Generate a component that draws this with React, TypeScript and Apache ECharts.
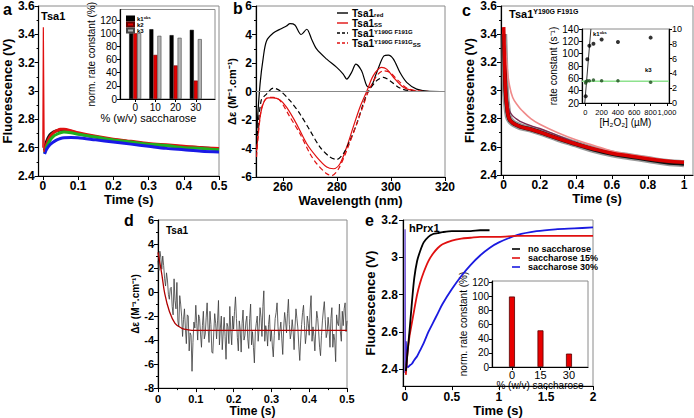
import React, { useEffect, useRef } from "react";
import * as echarts from "echarts";

const FONT = "'Liberation Sans', Arial, Helvetica, sans-serif";

// ---------------- Panel a ----------------
const aSpikeTime = [0, 0.0015, 0.004];
const aSpikeRed = [2.6, 3.45, 2.57];
const aTime = [0.005, 0.01, 0.02, 0.03, 0.04, 0.05, 0.06, 0.08, 0.1, 0.15, 0.2, 0.25, 0.3, 0.35, 0.4, 0.45, 0.5];
const aBlack = [2.58, 2.64, 2.69, 2.71, 2.72, 2.725, 2.725, 2.715, 2.7, 2.675, 2.655, 2.64, 2.625, 2.615, 2.605, 2.6, 2.59];
const aRed = [2.57, 2.62, 2.675, 2.705, 2.72, 2.73, 2.73, 2.72, 2.705, 2.68, 2.66, 2.645, 2.63, 2.62, 2.61, 2.6, 2.595];
const aGreen = [2.56, 2.6, 2.65, 2.68, 2.695, 2.705, 2.71, 2.705, 2.695, 2.675, 2.655, 2.64, 2.625, 2.615, 2.6, 2.595, 2.585];
const aBlue = [2.555, 2.585, 2.62, 2.64, 2.655, 2.665, 2.67, 2.672, 2.67, 2.655, 2.64, 2.625, 2.61, 2.595, 2.585, 2.575, 2.57];
const aXTicks = [0, 0.1, 0.2, 0.3, 0.4, 0.5];
const aInsetConc = [0, 10, 20, 30];
const aK1 = [100, 106, 97, 105];
const aK2 = [100, 67, 51, 28];
const aK3 = [100, 96, 93, 91];
const aInsetYTicks = [0, 20, 40, 60, 80, 100, 120];

// ---------------- Panel b ----------------
const bRedX = [250.2, 251.5, 252.7, 253.9, 256.4, 258.9, 261.3, 262.6, 264.4, 266.7, 268.8, 270.6, 272.5, 276.2, 279.9, 282.3, 283.6, 285.4, 287.0, 289.1, 291.0, 292.2, 294.7, 297.4, 299.0, 300.9, 303.3, 305.8, 309.5, 314.4, 320];
const bRedY = [-2.97, 0.52, 2.4, 3.55, 4.1, 4.37, 4.6, 4.76, 4.67, 4.0, 4.37, 3.67, 2.97, 2.27, 1.69, 1.22, 0.87, 1.34, 1.92, 1.45, 0.41, 0.29, 1.34, 2.5, 2.55, 2.27, 1.34, 0.64, 0.17, 0.01, 0];
const bSsX = [250.2, 251.5, 253.0, 254.5, 256.4, 258.9, 261.3, 265.0, 268.8, 272.5, 276.2, 278.7, 281.1, 283.6, 286.0, 288.5, 291.0, 293.4, 296.5, 298.4, 300.9, 304.6, 308.3, 312, 320];
const bSsY = [-4.2, -1.8, -0.7, -0.45, -0.45, -0.6, -1.1, -2.27, -3.67, -4.6, -5.3, -5.42, -5.07, -3.9, -2.5, -1.1, 0.0, 1.1, 1.69, 1.57, 1.0, 0.29, 0.05, 0, 0];
const bMutX = [250.2, 251.9, 253.9, 256.4, 258.9, 262.6, 266.3, 270.0, 273.7, 277.4, 279.9, 282.3, 284.8, 287.3, 289.7, 291.6, 294.7, 297.2, 299.6, 303.3, 307.0, 312, 320];
const bMutY = [-3.67, -0.64, -0.18, 0.24, 0.05, -0.64, -1.58, -2.74, -3.9, -4.6, -4.77, -4.37, -3.44, -2.27, -0.88, 0.0, 0.76, 0.99, 0.76, 0.24, 0.05, 0, 0];
const bMutSsX = [250.2, 251.9, 253.9, 256.4, 258.9, 262.6, 266.3, 270.0, 272.5, 276.2, 278.1, 280.6, 283.6, 287.3, 289.7, 291.6, 294.7, 297.2, 299.6, 302.7, 305.8, 309.5, 314, 320];
const bMutSsY = [-4.6, -1.3, -0.47, -0.41, -0.64, -1.8, -2.97, -4.37, -5.07, -5.77, -5.9, -5.42, -4.14, -2.27, -1.0, 0.0, 1.1, 1.45, 1.34, 0.76, 0.24, 0.05, 0, 0];
const bXTicks = [260, 280, 300, 320];

// ---------------- Panel c ----------------
const cTime = [0, 0.005, 0.01, 0.02, 0.03, 0.05, 0.08, 0.1, 0.15, 0.2, 0.3, 0.4, 0.5, 0.6, 0.7, 0.8, 0.9, 1.0];
const cBlack = [3.4, 3.2, 3.0, 2.86, 2.8, 2.77, 2.75, 2.74, 2.725, 2.705, 2.66, 2.62, 2.58, 2.55, 2.53, 2.51, 2.49, 2.48];
const cRed = [3.45, 3.2, 3.0, 2.86, 2.8, 2.77, 2.75, 2.74, 2.725, 2.705, 2.66, 2.62, 2.585, 2.555, 2.535, 2.515, 2.5, 2.49];
const cPink = [3.45, 3.38, 3.3, 3.15, 3.05, 2.95, 2.89, 2.86, 2.8, 2.76, 2.7, 2.65, 2.61, 2.57, 2.545, 2.525, 2.505, 2.49];
const cMidTime = [0, 0.005, 0.01, 0.02, 0.03, 0.05, 0.08, 0.1, 0.15, 0.2, 0.3, 0.4];
const cMid = [3.4, 3.2, 3.05, 2.92, 2.86, 2.82, 2.79, 2.775, 2.75, 2.73, 2.68, 2.63];
const cXTicks = [0, 0.2, 0.4, 0.6, 0.8, 1];
const cH2O2 = [5, 25, 50, 100, 200, 400, 800];
const cK1 = [31, 91, 113, 116, 123, 119, 126];
const cK1FitX = [-6, 69];
const cK1FitY = [20, 140];
const cK3Conc = [5, 10, 25, 50, 100, 200, 400, 800];
const cK3 = [2.7, 2.9, 3.0, 3.0, 3.1, 3.0, 3.0, 2.8];
const cK3FitX = [-40, 1025];
const cK3FitY = [2.95, 2.95];
const cInsetXTicks = [0, 200, 400, 600, 800, 1000];

// ---------------- Panel d ----------------
const dTime = [
  0, 0.0025, 0.005, 0.0075, 0.01, 0.0125, 0.015, 0.0175, 0.02, 0.0225, 0.025, 0.0275, 0.03, 0.0325, 0.035, 0.0375, 0.04, 0.0425, 0.045, 0.0475,
  0.05, 0.0525, 0.055, 0.0575, 0.06, 0.0625, 0.065, 0.0675, 0.07, 0.0725, 0.075, 0.0775, 0.08, 0.0825, 0.085, 0.0875, 0.09, 0.0925, 0.095, 0.0975,
  0.1, 0.1025, 0.105, 0.1075, 0.11, 0.1125, 0.115, 0.1175, 0.12, 0.1225, 0.125, 0.1275, 0.13, 0.1325, 0.135, 0.1375, 0.14, 0.1425, 0.145, 0.1475,
  0.15, 0.1525, 0.155, 0.1575, 0.16, 0.1625, 0.165, 0.1675, 0.17, 0.1725, 0.175, 0.1775, 0.18, 0.1825, 0.185, 0.1875, 0.19, 0.1925, 0.195, 0.1975,
  0.2, 0.2025, 0.205, 0.2075, 0.21, 0.2125, 0.215, 0.2175, 0.22, 0.2225, 0.225, 0.2275, 0.23, 0.2325, 0.235, 0.2375, 0.24, 0.2425, 0.245, 0.2475,
  0.25, 0.2525, 0.255, 0.2575, 0.26, 0.2625, 0.265, 0.2675, 0.27, 0.2725, 0.275, 0.2775, 0.28, 0.2825, 0.285, 0.2875, 0.29, 0.2925, 0.295, 0.2975,
  0.3, 0.3025, 0.305, 0.3075, 0.31, 0.3125, 0.315, 0.3175, 0.32, 0.3225, 0.325, 0.3275, 0.33, 0.3325, 0.335, 0.3375, 0.34, 0.3425, 0.345, 0.3475,
  0.35, 0.3525, 0.355, 0.3575, 0.36, 0.3625, 0.365, 0.3675, 0.37, 0.3725, 0.375, 0.3775, 0.38, 0.3825, 0.385, 0.3875, 0.39, 0.3925, 0.395, 0.3975,
  0.4, 0.4025, 0.405, 0.4075, 0.41, 0.4125, 0.415, 0.4175, 0.42, 0.4225, 0.425, 0.4275, 0.43, 0.4325, 0.435, 0.4375, 0.44, 0.4425, 0.445, 0.4475,
  0.45, 0.4525, 0.455, 0.4575, 0.46, 0.4625, 0.465, 0.4675, 0.47, 0.4725, 0.475, 0.4775, 0.48, 0.4825, 0.485, 0.4875, 0.49, 0.4925, 0.495, 0.4975,
  0.5,
];
const dSignal = [
  2.6, 1.8, 3.4, 2.9, 1.9, 3.0, 2.2, 1.1, 0.5, 1.6, 1.0, -0.2, -0.6, 0.3, 0.4, -1.2, -1.9, 1.1, -0.7, -1.4,
  0.8, -2.4, -2.9, -0.3, -1.0, -2.0, -3.7, -2.3, -1.4, -3.0, -4.3, -1.9, -2.0, -4.9, -3.4, -3.6, -6.6, -4.2, -2.5, -3.0,
  -1.1, -2.6, -4.0, -1.9, -2.2, -3.5, -4.6, -2.8, -1.6, -3.9, -3.5, -2.1, -0.9, -3.0, -4.2, -1.6, -2.7, -5.0, -5.1, -3.4,
  -1.8, -2.6, -3.9, -2.4, -0.7, -4.4, -3.0, -2.0, -4.8, -3.4, -2.1, -3.7, -5.6, -2.6, -2.9, -4.3, -1.2, -3.2, -4.4, -2.0,
  -3.1, -1.6, -0.4, -2.2, -3.8, -4.9, -2.4, -3.1, -5.0, -2.6, -1.5, -4.0, -3.6, -2.5, -2.0, -3.9, -4.7, -2.2, -1.0, -4.4,
  -3.3, -4.6, -5.9, -3.3, -2.6, -2.0, -4.1, -3.0, -1.3, -2.1, -3.7, -1.2, 0.1, -4.1, -2.8, -3.3, -4.5, -2.7, -1.9, -4.1,
  -3.2, -4.5, -5.4, -3.6, -2.2, -1.7, -0.9, -2.9, -4.0, -3.2, -2.5, -3.9, -5.2, -3.0, -1.7, -2.4, -3.4, -1.8, -0.6, -2.7,
  -3.9, -3.4, -2.3, -3.2, -4.8, -2.9, -1.4, -2.2, -3.0, -4.5, -5.7, -4.0, -2.7, -1.7, -1.1, -2.8, -4.3, -3.5, -2.0, -2.6,
  -3.6, -1.5, -0.3, -4.1, -2.9, -3.7, -4.9, -3.0, -1.6, -2.2, -3.3, -4.6, -5.3, -3.6, -2.4, -1.5, -0.8, -2.3, -3.8, -3.4,
  -2.1, -3.0, -4.6, -2.2, -1.3, -4.6, -3.5, -4.0, -5.8, -1.9, -2.6, -2.8, -1.0, -3.3, -4.1, -1.6, -2.8, -1.4, -0.9, -3.3,
  -2.4,
];
const dFitTime = [0, 0.01, 0.018, 0.03, 0.045, 0.062, 0.08, 0.1, 0.5];
const dFit = [3.3, 1.5, -0.15, -1.6, -2.6, -3.0, -3.15, -3.2, -3.2];

// ---------------- Panel e ----------------
const eSpikeTime = [0, 0.002, 0.006];
const eSpike = [2.38, 3.15, 2.42];
const eTime = [0.01, 0.03, 0.05, 0.075, 0.1, 0.13, 0.16, 0.2, 0.25, 0.3, 0.35, 0.4, 0.5, 0.6, 0.7, 0.8, 0.9, 1.0, 1.2, 1.4, 1.6, 1.8, 2.0];
const eBlack = [2.39, 2.5, 2.61, 2.76, 2.89, 2.98, 3.03, 3.08, 3.11, 3.125, 3.13, 3.135, 3.14, 3.14, 3.14, 3.145, 3.145];
const eRed = [2.37, 2.5, 2.58, 2.65, 2.72, 2.8, 2.86, 2.92, 2.98, 3.02, 3.05, 3.07, 3.09, 3.1, 3.105, 3.11, 3.11, 3.11, 3.115, 3.115, 3.115, 3.115, 3.115];
const eBlue = [2.55, 2.41, 2.42, 2.43, 2.45, 2.47, 2.5, 2.54, 2.6, 2.65, 2.7, 2.75, 2.83, 2.9, 2.96, 3.01, 3.05, 3.08, 3.12, 3.14, 3.15, 3.155, 3.16];
const eXTicks = [0, 0.5, 1, 1.5, 2];
const eYTicks = [2.4, 2.6, 2.8, 3, 3.2];
const eConc = [0, 15, 30];
const eRate = [100, 52, 19];
const eInsetYTicks = [0, 20, 40, 60, 80, 100, 120];

// legend texts
const bLegend = [
  { text: "{m|Tsa1}{sub|red}", color: "#000", dash: false },
  { text: "{m|Tsa1}{sub|SS}", color: "#e01010", dash: false },
  { text: "{m|Tsa1}{sup|Y190G F191G}", color: "#000", dash: true },
  { text: "{m|Tsa1}{sup|Y190G F191G}{sub|SS}", color: "#e01010", dash: true },
];
const eLegend = [
  { text: "no saccharose", color: "#000" },
  { text: "saccharose 15%", color: "#e01010" },
  { text: "saccharose 30%", color: "#1a1ae0" },
];

const zip = (xs: number[], ys: number[]) => ys.map((y, i) => [xs[i], y]);

function axis(grid: number, o: any) {
  const tickCustom = o.ticks ? { customValues: o.ticks } : {};
  return {
    type: "value",
    gridIndex: grid,
    min: o.min,
    max: o.max,
    interval: o.interval,
    position: o.position,
    axisLine: { show: true, onZero: false, lineStyle: { color: "#000", width: 1.2 } },
    axisTick: { show: true, inside: false, length: o.tick ?? 4, lineStyle: { color: "#000", width: 1 }, ...tickCustom },
    minorTick: { show: !!o.minor, splitNumber: 2, length: 2, lineStyle: { color: "#000" } },
    splitLine: { show: false },
    axisLabel: {
      show: o.labels !== false,
      ...tickCustom,
      fontSize: o.fs ?? 12,
      fontWeight: o.weight ?? "bold",
      color: "#000",
      fontFamily: FONT,
      margin: o.margin ?? 4,
      formatter: o.fmt,
      hideOverlap: false,
      showMinLabel: true,
      showMaxLabel: true,
    },
    name: o.name,
    nameLocation: "middle",
    nameGap: o.nameGap ?? 20,
    nameTextStyle: {
      fontSize: o.nfs ?? 13,
      fontWeight: o.nweight ?? "bold",
      color: "#000",
      fontFamily: FONT,
      padding: o.npad ?? 0,
    },
  };
}

const line = (name: string, xi: number, yi: number, data: any[], color: string, width: number, extra: any = {}) => ({
  type: "line",
  name,
  xAxisIndex: xi,
  yAxisIndex: yi,
  data,
  symbol: "none",
  showSymbol: false,
  lineStyle: { color, width, ...(extra.lineStyle || {}) },
  itemStyle: { color },
  smooth: extra.smooth ?? false,
  z: extra.z ?? 2,
  silent: true,
  ...(extra.markLine ? { markLine: extra.markLine } : {}),
});

const txt = (text: string, left: number, top: number, size: number, rich?: any, weight = "bold") => ({
  type: "text",
  left,
  top,
  z: 10,
  style: { text, fontSize: size, fontWeight: weight, fontFamily: FONT, fill: "#000", rich },
});

const legendRich = {
  m: { fontSize: 10, fontWeight: "bold", lineHeight: 9, fontFamily: FONT, fill: "#000" },
  sub: { fontSize: 6, fontWeight: "bold", lineHeight: 6, verticalAlign: "bottom", fontFamily: FONT, fill: "#000" },
  sup: { fontSize: 6, fontWeight: "bold", lineHeight: 6, verticalAlign: "top", fontFamily: FONT, fill: "#000" },
};

function legendGraphics() {
  const out: any[] = [];
  bLegend.forEach((it, i) => {
    const y = 13 + i * 10;
    out.push({
      type: "line", z: 10, silent: true,
      shape: { x1: 337, y1: y, x2: 348, y2: y },
      style: { stroke: it.color, lineWidth: 1.4, lineDash: it.dash ? [3, 2] : null },
    });
    out.push({
      type: "text", z: 10, silent: true, x: 352, y,
      style: { text: it.text, verticalAlign: "middle", fontSize: 10, fontWeight: "bold", fontFamily: FONT, fill: "#000", rich: legendRich },
    });
  });
  eLegend.forEach((it, i) => {
    const y = 249 + i * 9;
    out.push({
      type: "line", z: 10, silent: true,
      shape: { x1: 512, y1: y, x2: 520, y2: y },
      style: { stroke: it.color, lineWidth: 1.6 },
    });
    out.push({
      type: "text", z: 10, silent: true, x: 528, y,
      style: { text: it.text, verticalAlign: "middle", fontSize: 9, fontWeight: "bold", fontFamily: FONT, fill: "#000" },
    });
  });
  return out;
}

export default function App() {
  const ref = useRef<HTMLDivElement>(null);
  useEffect(() => {
    if (!ref.current) return;
    const chart = echarts.init(ref.current, undefined, { renderer: "svg" });
    const frame = { show: true, borderColor: "#8a8a8a", borderWidth: 1, backgroundColor: "transparent" };
    const option: any = {
      animation: false,
      backgroundColor: "#fff",
      textStyle: { fontFamily: FONT },
      grid: [
        { left: 33, top: 5, width: 186, height: 171, ...frame },
        { left: 120, top: 5, width: 95, height: 94, ...frame },
        { left: 256, top: 5, width: 189, height: 172, ...frame },
        { left: 501, top: 5, width: 192, height: 170, ...frame },
        { left: 582, top: 29, width: 87, height: 74, ...frame },
        { left: 158, top: 220, width: 189, height: 171, ...frame },
        { left: 403, top: 220, width: 190, height: 170, ...frame },
        { left: 492, top: 281, width: 96, height: 86, ...frame },
      ],
      xAxis: [
        axis(0, { min: -0.012, max: 0.5, ticks: aXTicks, name: "Time (s)", nameGap: 15 }),
        axis(1, { min: -7.5, max: 39.5, ticks: aInsetConc, fs: 10, weight: "normal", margin: 3, tick: 3, name: "% (w/v) saccharose", nameGap: 13, nfs: 11, nweight: "normal", npad: [0, 38, 0, 0] }),
        axis(2, { min: 250, max: 320, ticks: bXTicks, name: "Wavelength (nm)", nameGap: 16 }),
        axis(3, { min: -0.015, max: 1.05, ticks: cXTicks, name: "Time (s)", nameGap: 16 }),
        axis(4, { min: -40, max: 1025, ticks: cInsetXTicks, fs: 7.5, weight: "normal", margin: 5, tick: 3, fmt: (v: number) => (v === 1000 ? "1,000" : String(v)), name: "[H₂O₂] (µM)", nameGap: 14, nfs: 10, nweight: "normal" }),
        axis(5, { min: 0, max: 0.5, interval: 0.1, minor: true, fs: 11, margin: 5, name: "Time (s)", nameGap: 16, nfs: 12 }),
        axis(6, { min: -0.02, max: 2, ticks: eXTicks, margin: 5, name: "Time (s)", nameGap: 16 }),
        axis(7, { min: -10.5, max: 40, ticks: eConc, fs: 11, weight: "normal", margin: 2, tick: 3, name: "% (w/v) saccharose", nameGap: 11, nfs: 10, nweight: "normal" }),
      ],
      yAxis: [
        axis(0, { min: 2.4, max: 3.6, interval: 0.2, minor: true, name: "Fluorescence (V)", nameGap: 22 }),
        axis(1, { min: 0, max: 136, ticks: aInsetYTicks, fs: 10, weight: "normal", margin: 3, tick: 3, name: "norm. rate constant (%)", nameGap: 18, nfs: 10, nweight: "normal" }),
        axis(2, { min: -6, max: 6, interval: 2, minor: true, margin: 4, name: "Δε (M⁻¹.cm⁻¹)", nameGap: 12, nfs: 11 }),
        axis(3, { min: 2.4, max: 3.6, interval: 0.2, minor: true, name: "Fluorescence (V)", nameGap: 24 }),
        axis(4, { min: 20, max: 140, interval: 20, fs: 10, weight: "normal", margin: 3, tick: 3, name: "rate constant (s⁻¹)", nameGap: 18, nfs: 10, nweight: "normal" }),
        axis(4, { min: 0, max: 10, interval: 2, position: "right", fs: 9, weight: "normal", margin: 3, tick: 3 }),
        axis(5, { min: -8, max: 6, interval: 2, minor: true, fs: 11, margin: 4, name: "Δε (M⁻¹.cm⁻¹)", nameGap: 14, nfs: 10 }),
        axis(6, { min: 2.31, max: 3.2, ticks: eYTicks, margin: 5, name: "Fluorescence (V)", nameGap: 19 }),
        axis(7, { min: 0, max: 122, ticks: eInsetYTicks, fs: 10, weight: "normal", margin: 3, tick: 3, name: "norm. rate constant (%)", nameGap: 14, nfs: 10, nweight: "normal" }),
      ],
      legend: [
        {
          left: 121, top: 10, orient: "vertical", itemGap: 0, itemWidth: 7, itemHeight: 4, icon: "rect",
          data: ["k1obs", "k2", "k3"],
          formatter: (n: string) => (n === "k1obs" ? "{m|k1}{sup|obs}" : "{m|" + n + "}"),
          textStyle: {
            fontSize: 6, fontWeight: "bold", color: "#000", fontFamily: FONT, padding: [0, 0, 0, -2],
            rich: {
              m: { fontSize: 6, fontWeight: "bold", lineHeight: 7, fontFamily: FONT },
              sup: { fontSize: 4, fontWeight: "bold", lineHeight: 5, verticalAlign: "top", fontFamily: FONT },
            },
          },
        },
      ],
      series: [
        // panel a
        line("a black", 0, 0, zip(aTime, aBlack), "#111111", 3, { smooth: 0.3 }),
        line("a red", 0, 0, zip(aTime, aRed), "#e01010", 3, { smooth: 0.3 }),
        line("a green", 0, 0, zip(aTime, aGreen), "#1fb01f", 3, { smooth: 0.3 }),
        line("a blue", 0, 0, zip(aTime, aBlue), "#1a1ae6", 3, { smooth: 0.3 }),
        line("a spike", 0, 0, zip(aSpikeTime, aSpikeRed), "#e01010", 1.2),
        // panel a inset
        { type: "bar", name: "k1obs", xAxisIndex: 1, yAxisIndex: 1, data: zip(aInsetConc, aK1), barWidth: 4, barGap: "0%", itemStyle: { color: "#000", borderColor: "#000", borderWidth: 0.5 } },
        { type: "bar", name: "k2", xAxisIndex: 1, yAxisIndex: 1, data: zip(aInsetConc, aK2), barWidth: 4, barGap: "0%", itemStyle: { color: "#e00000", borderColor: "#600", borderWidth: 0.5 } },
        { type: "bar", name: "k3", xAxisIndex: 1, yAxisIndex: 1, data: zip(aInsetConc, aK3), barWidth: 4, barGap: "0%", itemStyle: { color: "#b4b4b4", borderColor: "#444", borderWidth: 0.6 } },
        // panel b
        line("Tsa1red", 2, 2, zip(bRedX, bRedY), "#000", 1.2, {
          smooth: 0.3,
          markLine: { silent: true, symbol: "none", label: { show: false }, lineStyle: { color: "#888", width: 1, type: "solid" }, data: [{ yAxis: 0 }] },
        }),
        line("Tsa1ss", 2, 2, zip(bSsX, bSsY), "#e01010", 1.2, { smooth: 0.3 }),
        line("Tsa1mut", 2, 2, zip(bMutX, bMutY), "#000", 1.2, { smooth: 0.3, lineStyle: { type: [5, 3] } }),
        line("Tsa1mutss", 2, 2, zip(bMutSsX, bMutSsY), "#e01010", 1.2, { smooth: 0.3, lineStyle: { type: [5, 3] } }),
        // panel c
        line("c noise", 3, 3, zip(cTime, cBlack), "#555", 7, { smooth: 0.4, lineStyle: { opacity: 0.6 } }),
        line("c black", 3, 3, zip(cTime, cBlack), "#111", 4, { smooth: 0.4 }),
        line("c pink", 3, 3, zip(cTime, cPink), "#f08a8a", 1.6, { smooth: 0.4 }),
        line("c mid", 3, 3, zip(cMidTime, cMid), "#7a2b50", 1.4, { smooth: 0.4 }),
        line("c red", 3, 3, zip(cTime, cRed), "#d80000", 3.5, { smooth: 0.4, z: 3 }),
        // panel c inset
        line("c k1 fit", 4, 4, zip(cK1FitX, cK1FitY), "#333", 1),
        line("c k3 fit", 4, 5, zip(cK3FitX, cK3FitY), "#8ee28e", 1.5),
        { type: "scatter", name: "c k1", xAxisIndex: 4, yAxisIndex: 4, data: zip(cH2O2, cK1), symbolSize: 4, itemStyle: { color: "#000" }, z: 4 },
        { type: "scatter", name: "c k3", xAxisIndex: 4, yAxisIndex: 5, data: zip(cK3Conc, cK3), symbolSize: 3.5, itemStyle: { color: "#1b4d1b" }, z: 4 },
        // panel d
        line("d signal", 5, 6, zip(dTime, dSignal), "#3a3a3a", 0.8),
        line("d fit", 5, 6, zip(dFitTime, dFit), "#b00000", 1.3, { smooth: 0.4, z: 3 }),
        // panel e
        line("no saccharose", 6, 7, zip(eTime, eBlack), "#000", 1.8, { smooth: 0.3, z: 4 }),
        line("saccharose 15%", 6, 7, zip(eTime, eRed), "#e01010", 1.8, { smooth: 0.3, z: 3 }),
        line("saccharose 30%", 6, 7, zip(eTime, eBlue), "#1a1ae0", 1.8, { smooth: 0.3 }),
        line("e spike", 6, 7, zip(eSpikeTime, eSpike), "#5a3ad0", 1.2),
        // panel e inset
        { type: "bar", name: "e rate", xAxisIndex: 7, yAxisIndex: 8, data: zip(eConc, eRate), barWidth: 6, itemStyle: { color: "#e80000", borderColor: "#500", borderWidth: 0.8 } },
      ],
      graphic: [
        txt("a", 3, 1, 16),
        txt("b", 233, 0, 16),
        txt("c", 462, 2, 16),
        txt("d", 124, 212, 16),
        txt("e", 365, 212, 16),
        txt("Tsa1", 41, 10, 11),
        txt("{m|Tsa1}{s|Y190G F191G}", 509, 8, 11, {
          m: { fontSize: 11, fontWeight: "bold", fontFamily: FONT, lineHeight: 12 },
          s: { fontSize: 7, fontWeight: "bold", fontFamily: FONT, lineHeight: 8, verticalAlign: "top" },
        }),
        txt("Tsa1", 166, 225, 10),
        txt("hPrx1", 409, 222, 11),
        txt("{m|k1}{s|obs}", 593, 30, 6, {
          m: { fontSize: 6, fontWeight: "bold", fontFamily: FONT, lineHeight: 7 },
          s: { fontSize: 4, fontWeight: "bold", fontFamily: FONT, lineHeight: 5, verticalAlign: "top" },
        }),
        txt("k3", 645, 67, 6),
        ...legendGraphics(),
      ],
    };
    chart.setOption(option);
    return () => chart.dispose();
  }, []);
  return <div ref={ref} style={{ position: "fixed", left: 0, top: 0, width: 694, height: 418 }} />;
}
